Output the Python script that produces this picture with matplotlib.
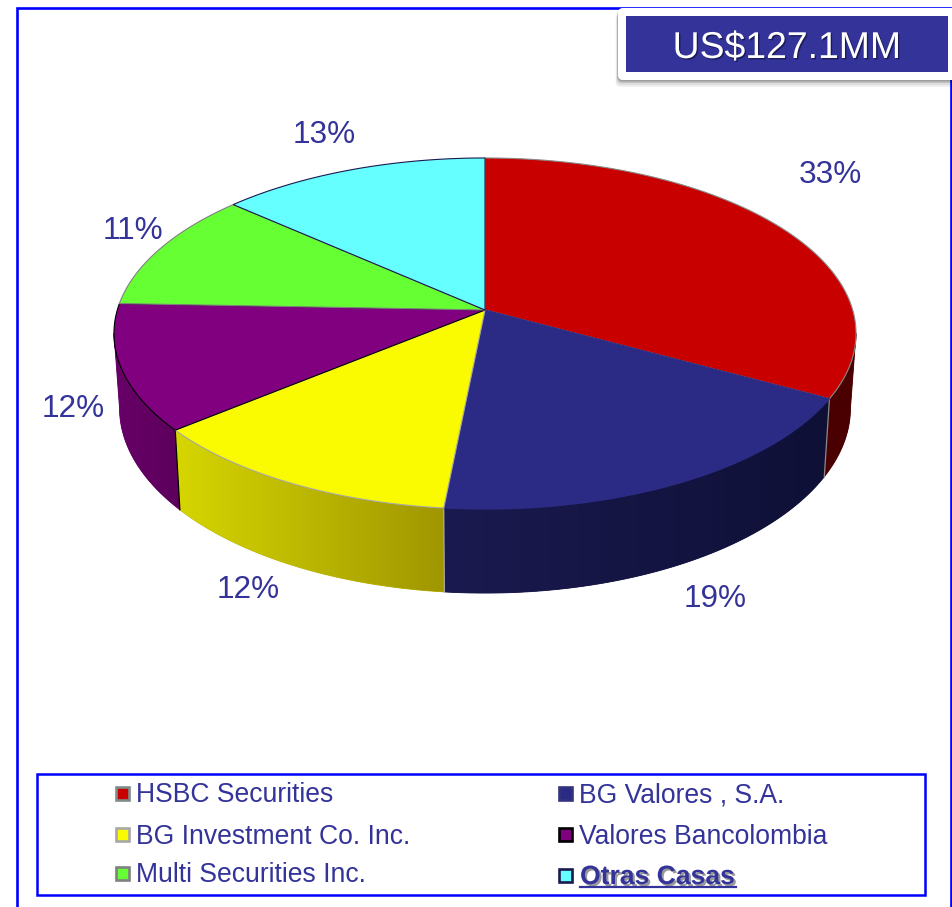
import numpy as np
import matplotlib
matplotlib.use("Agg")
import matplotlib.pyplot as plt
from matplotlib.patches import Rectangle, FancyBboxPatch, Polygon
from matplotlib.colors import to_rgb
import matplotlib.patheffects as pe

plt.rcParams['font.family'] = ['Liberation Sans', 'DejaVu Sans']

# share of each firm (labels show them rounded)
names = ['HSBC Securities', 'BG Valores , S.A.', 'BG Investment Co. Inc.',
         'Valores Bancolombia', 'Multi Securities Inc.', 'Otras Casas']
shares = [33.0, 18.55, 12.45, 11.6, 11.0, 13.4]
total_text = 'US$127.1MM'

top_colors = ['#C80000', '#2B2B85', '#FAFA00', '#800080', '#66FF33', '#66FFFF']
top_edges = ['#8a8a8a', '#2B2B85', '#a8a8a8', '#000000', '#808080', '#1a1a50']
side_left = ['#4a0000', '#1a1a50', '#D6D600', '#680068', '#000000', '#000000']
side_right = ['#4a0000', '#0f1036', '#A09600', '#5c005c', '#000000', '#000000']
marker_edges = ['#7f8c8c', '#333380', '#a8a8a8', '#000000', '#808080', '#1a1a50']
text_color = '#333399'
blue = '#0000FF'

label_pos = [(830, 171), (715, 595), (248, 586), (73, 405), (133, 227), (324, 131)]
legend_pos = [(116, 802), (559, 802), (116, 843), (559, 843), (116, 882), (559, 884)]


def top_xy(cw):
    # perspective view of the circle, cw = degrees clockwise from the top
    a = np.radians(90 - np.asarray(cw, dtype=float))
    x, y = np.cos(a), np.sin(a)
    d = 1 + 0.134 * y
    return 485 + 367.7 * x / d, 310 - 172.4 * y / d


def bottom_xy(cw):
    x, y = top_xy(cw)
    return 485 + (x - 485) * 0.985, y + 78 + (y - 400) * 0.055


fig = plt.figure(figsize=(9.53, 9.07), dpi=100)
ax = fig.add_axes([0, 0, 1, 1])
ax.axis('off')

# outer frame, open at the bottom
ax.plot([17, 17, 951.5, 951.5], [915, 8, 8, 915], color=blue, lw=1.9, zorder=1,
        solid_joinstyle='miter')

edges = np.concatenate([[0], np.cumsum(shares)]) / sum(shares) * 360

# rim first, then the top faces over it
# only the part between the two silhouette angles can be seen
for i in range(len(shares)):
    start, end = max(edges[i], 97.7), min(edges[i + 1], 262.3)
    if end <= start:
        continue
    steps = np.linspace(start, end, 120)
    xt, yt = top_xy(steps)
    xb, yb = bottom_xy(steps)
    pts = list(zip(xt, yt)) + list(zip(xb[::-1], yb[::-1]))
    c_left, c_right = np.array(to_rgb(side_left[i])), np.array(to_rgb(side_right[i]))
    rim = Polygon(pts, closed=True, facecolor=(c_left + c_right) / 2,
                  edgecolor=(c_left + c_right) / 2, lw=0.6, zorder=2)
    ax.add_patch(rim)
    grad = np.linspace(c_left, c_right, 256)[np.newaxis, :, :]
    xs = [p[0] for p in pts]
    ys = [p[1] for p in pts]
    im = ax.imshow(grad, extent=(min(xs), max(xs), max(ys), min(ys)), aspect='auto',
                   interpolation='bilinear', zorder=2.5)
    im.set_clip_path(rim)

# seams between the rim pieces
for i, cw in enumerate(edges[1:4]):
    xt, yt = top_xy(cw)
    xb, yb = bottom_xy(cw)
    ax.plot([xt, xb], [yt, yb], color=['#8a8a8a', '#a8a8a8', '#000000'][i], lw=0.9, zorder=3)

for i in range(len(shares)):
    xt, yt = top_xy(np.linspace(edges[i], edges[i + 1], 120))
    pts = [(485, 310)] + list(zip(xt, yt))
    ax.add_patch(Polygon(pts, closed=True, facecolor=top_colors[i],
                         edgecolor=top_edges[i], lw=0.8, zorder=4))

for (x, y), s in zip(label_pos, shares):
    ax.text(x, y + 12, f'{round(s)}%', color=text_color, fontsize=22.7,
            ha='center', va='baseline', zorder=6)

# total box with its drop shadow
for k, alpha in zip([7, 5, 3, 1.5], [0.06, 0.08, 0.12, 0.18]):
    ax.add_patch(FancyBboxPatch((618 - k / 3, 8 + k), 360, 72, boxstyle='round,pad=0,rounding_size=5',
                                facecolor='black', edgecolor='none', alpha=alpha, zorder=7))
ax.add_patch(FancyBboxPatch((618, 8), 360, 72, boxstyle='round,pad=0,rounding_size=5',
                            facecolor='white', edgecolor='none', zorder=8))
ax.add_patch(Rectangle((626, 16), 322, 56, facecolor='#333399', edgecolor='none', zorder=9))
ax.text(787, 58, total_text, color='white', fontsize=26.9, ha='center', va='baseline', zorder=10,
        path_effects=[pe.withSimplePatchShadow(offset=(1, -1), shadow_rgbFace='#15154d', alpha=0.8)])

# legend
ax.add_patch(Rectangle((37, 774), 888, 121, facecolor='white', edgecolor=blue, lw=1.8, zorder=5))
for i, (x, y) in enumerate(legend_pos):
    ax.add_patch(Rectangle((x, y - 15), 13, 13, facecolor=top_colors[i],
                           edgecolor=marker_edges[i], lw=1.9, zorder=6))
    if names[i] == 'Otras Casas':
        ax.text(x + 21, y, names[i], color=text_color, fontsize=19.1, fontweight='bold',
                ha='left', va='baseline', zorder=7,
                path_effects=[pe.withSimplePatchShadow(offset=(1.5, -1.5), shadow_rgbFace='#555555', alpha=0.6)])
        ax.plot([x + 21, x + 177], [y + 3, y + 3], color=text_color, lw=1.6, zorder=7)
    else:
        ax.text(x + 20, y + 0.5, names[i], color=text_color, fontsize=19.1,
                ha='left', va='baseline', zorder=7)

ax.set_xlim(0, 953)
ax.set_ylim(907, 0)
fig.savefig('out.png', dpi=100, facecolor='white')
